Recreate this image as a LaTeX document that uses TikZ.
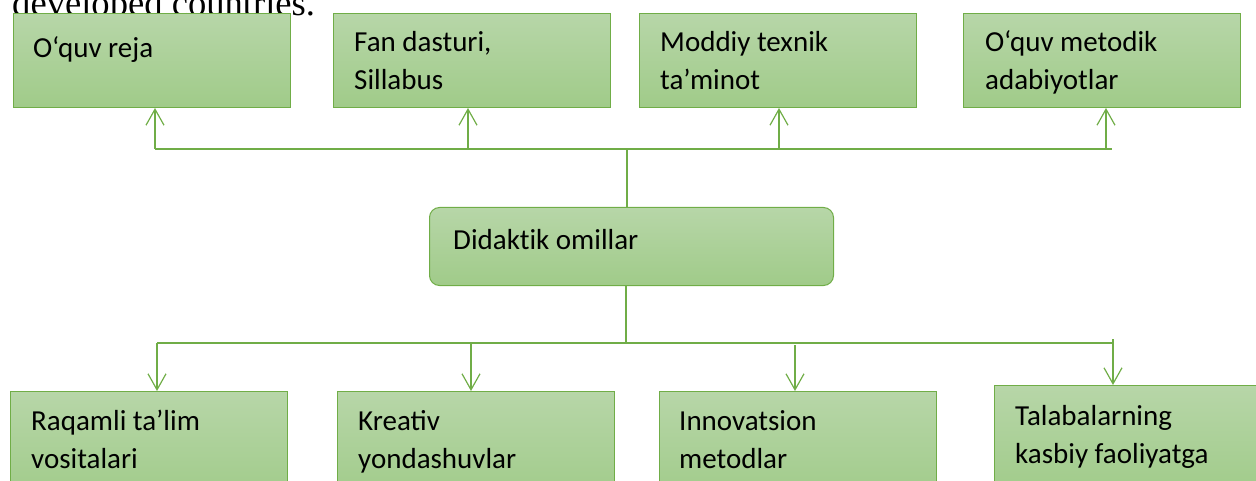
\documentclass[tikz,border=0pt]{standalone}
\usepackage{fontspec}
\setmainfont{Carlito}
\newfontfamily\serifbody{Liberation Serif}
\usetikzlibrary{positioning,arrows.meta,calc}
\definecolor{lgreen}{RGB}{112,173,71}
\definecolor{ftop}{RGB}{183,214,168}
\definecolor{fbot}{RGB}{160,203,137}

\begin{document}
\begin{tikzpicture}[
    x=1pt, y=-1pt,
    >={Straight Barb[length=16pt, width=18pt]},
    factor/.style  = {draw=lgreen, line width=1pt, top color=ftop, bottom color=fbot,
                      anchor=north west, inner sep=0pt},
    topbox/.style  = {factor, minimum width=277pt, minimum height=94pt},
    botbox/.style  = {factor, minimum width=277pt, minimum height=110pt},
    mainbox/.style = {factor, rounded corners=10pt, minimum width=404pt, minimum height=78pt},
    lbl/.style     = {anchor=base west, align=left, inner sep=0pt,
                      font=\fontsize{29}{38}\selectfont},
    link/.style    = {draw=lgreen, line width=1.2pt},
    arr/.style     = {link, ->}
]
\useasboundingbox (0,0) rectangle (1256,481);
\clip (0,0) rectangle (1256,481);

% line of running text above the figure
\node[anchor=base west, inner sep=0pt, font=\serifbody\fontsize{36.6}{40}\selectfont]
    (devtxt) at (12,16) {developed countries.};

% TOP ROW
\node[topbox] (b1) at (13,13)  {};
\node[topbox] (b2) at (333,13) {};
\node[topbox] (b3) at (639,13) {};
\node[topbox] (b4) at (963,13) {};

% (base of a two-line label = its second line)
\node[lbl] (t1) at ($(b1.north west)+(20,45)$) {O‘quv reja};
\node[lbl] (t2) at ($(b2.north west)+(21,77)$) {Fan dasturi,\\Sillabus};
\node[lbl] (t3) at ($(b3.north west)+(21,77)$) {Moddiy texnik\\ta’minot};
\node[lbl] (t4) at ($(b4.north west)+(22,77)$) {O‘quv metodik\\adabiyotlar};

% CENTRE
\node[mainbox] (dm) at (429,207) {};
\node[lbl] (tm) at ($(dm.north west)+(24,43)$) {Didakt\kern0pt ik omillar};

% BOTTOM ROW
\node[botbox] (c1) at (10,391)  {};
\node[botbox] (c2) at (337,391) {};
\node[botbox] (c3) at (659,391) {};
\node[botbox] (c4) at (994,385) {};

\node[lbl] (s1) at ($(c1.north west)+(21,77)$) {Raqamli ta’lim\\vositalari};
\node[lbl] (s2) at ($(c2.north west)+(21,77)$) {Kreativ\\yondashuvlar};
\node[lbl] (s3) at ($(c3.north west)+(20,77)$) {Innovatsion\\metodlar};
\node[lbl] (s4) at ($(c4.north west)+(21,78)$) {Talabalarning\\kasbiy faoliyatga};

% upper bus
\coordinate (up) at (627,149);
\coordinate (ua) at (155,149);
\coordinate (ub) at (1112,149);
\draw[link] (up |- dm.north) -- (up);
\draw[link] (ua) -- (ub);
\foreach \b/\x in {b1/155, b2/468, b3/779, b4/1106}{
  \coordinate (u\b) at (\x,149);
  \draw[arr] (u\b) -- (u\b |- \b.south);
}

% lower bus
\coordinate (dn) at (626,343);
\coordinate (da) at (157,343);
\coordinate (db) at (1113,343);
\draw[link] (dn |- dm.south) -- (dn);
\draw[link] (da) -- (db);
\foreach \c/\x/\y in {c1/157/343, c2/471/343, c3/795/345, c4/1113/339}{
  \coordinate (d\c) at (\x,\y);
  \draw[arr] (d\c) -- (d\c |- \c.north);
}

\end{tikzpicture}
\end{document}
